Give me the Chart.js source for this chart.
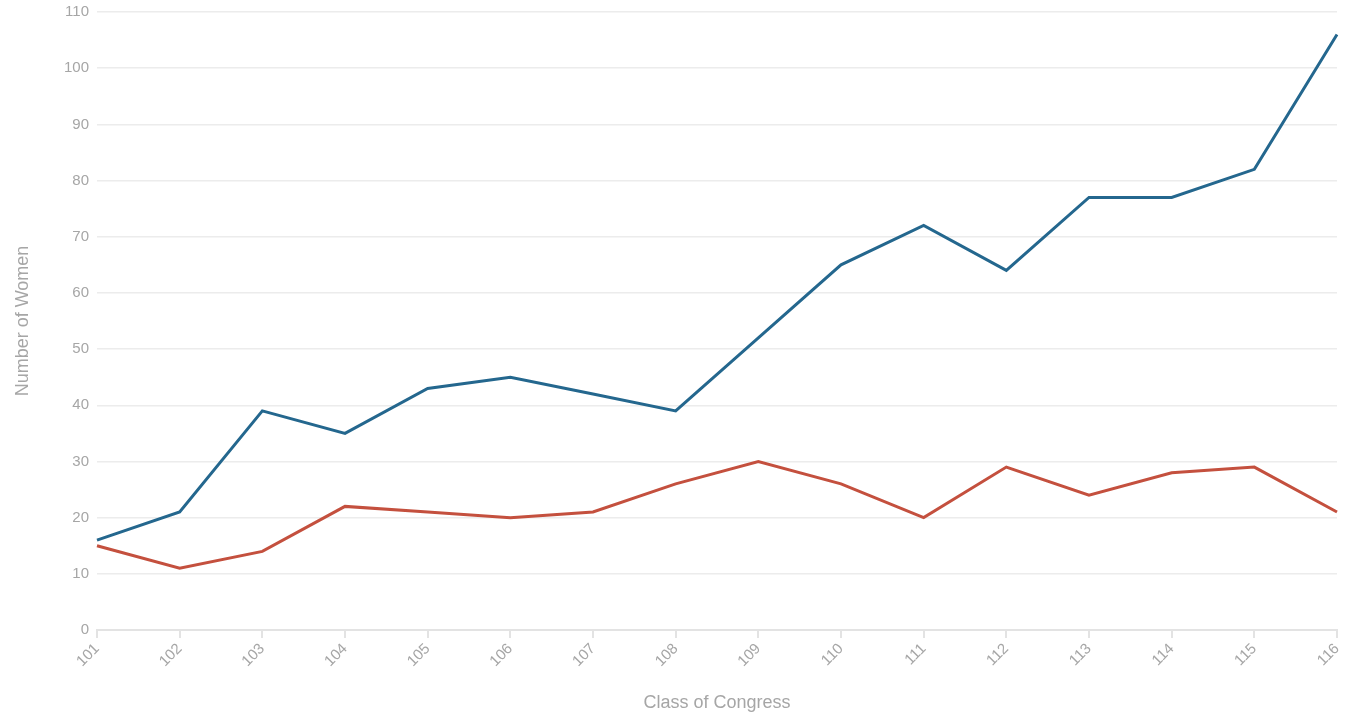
<!DOCTYPE html>
<html>
<head>
<meta charset="utf-8">
<script src="https://cdn.jsdelivr.net/npm/chart.js@4"></script>
<style>
html,body{margin:0;padding:0;background:#fff;}
#wrap{width:1352px;height:715px;position:relative;}
</style>
</head>
<body>
<div id="wrap"><canvas id="c"></canvas></div>
<script>
const congress = ["101","102","103","104","105","106","107","108","109","110","111","112","113","114","115","116"];
const democrats = [16,21,39,35,43,45,42,39,52,65,72,64,77,77,82,106];
const republicans = [15,11,14,22,21,20,21,26,30,26,20,29,24,28,29,21];
const yTicks = [0,10,20,30,40,50,60,70,80,90,100,110];

const gray = '#a6a6a6';
const font = 'Helvetica Neue, Helvetica, "Liberation Sans", Arial, sans-serif';

new Chart(document.getElementById('c'), {
  type: 'line',
  data: {
    labels: congress,
    datasets: [
      { label: 'Democrats', data: democrats, borderColor: '#24678e', borderWidth: 3, pointRadius: 0, tension: 0, fill: false },
      { label: 'Republicans', data: republicans, borderColor: '#c4503e', borderWidth: 3, pointRadius: 0, tension: 0, fill: false }
    ]
  },
  options: {
    responsive: true,
    maintainAspectRatio: false,
    animation: false,
    layout: { padding: { top: 12, right: 15, left: 8, bottom: 0 } },
    plugins: { legend: { display: false }, tooltip: { enabled: false } },
    scales: {
      x: {
        offset: false,
        grid: { drawOnChartArea: false, drawTicks: true, tickLength: 8, color: '#e3e3e3', lineWidth: 2 },
        border: { display: true, color: '#e3e3e3', width: 2 },
        ticks: { color: gray, font: { family: font, size: 15 }, minRotation: 45, maxRotation: 45, padding: 2, autoSkip: false },
        title: { display: true, text: 'Class of Congress', color: gray, font: { family: font, size: 18 }, padding: { top: 14, bottom: 1 } },
        afterFit: (s) => { s.height = 85; s.paddingLeft = 0; s.paddingRight = 0; }
      },
      y: {
        min: 0, max: 110,
        afterBuildTicks: (s) => { s.ticks = yTicks.map(v => ({ value: v })); },
        grid: { drawTicks: false, color: '#ececec', lineWidth: 1.5 },
        border: { display: false },
        ticks: { color: gray, font: { family: font, size: 15 }, padding: 8 },
        title: { display: true, text: 'Number of Women', color: gray, font: { family: font, size: 18 }, padding: { bottom: 0 } },
        afterFit: (s) => { s.width = 89; s.paddingTop = 0; s.paddingBottom = 0; }
      }
    }
  }
});
</script>
</body>
</html>
